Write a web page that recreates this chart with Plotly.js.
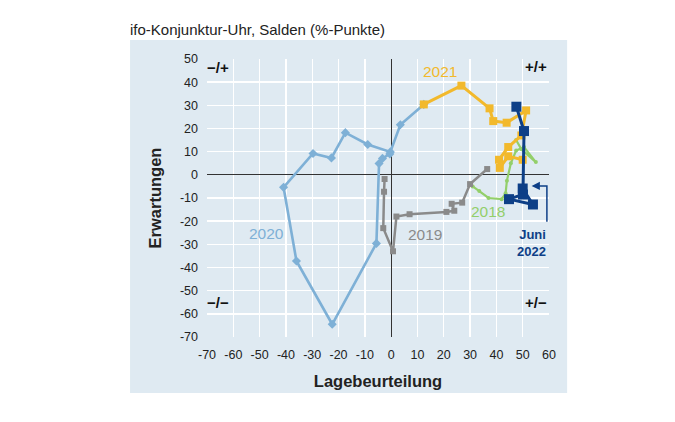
<!DOCTYPE html>
<html><head><meta charset="utf-8">
<script src="https://cdn.plot.ly/plotly-3.0.1.min.js"></script>
<style>html,body{margin:0;padding:0;background:#fff}#chart{width:675px;height:422px}</style>
</head><body><div id="chart"></div>
<script>
// ---- data (Lagebeurteilung = x, Erwartungen = y) ----
const lage2018 = [47.5, 49.5, 55.0, 50.5, 47.5, 45.5, 44.0, 43.5, 42.0, 37.0, 33.5, 31.0];
const erw2018  = [15.0, 11.0, 5.5, 12.0, 10.5, 5.0, -2.5, -8.0, -10.5, -10.0, -7.0, -5.0];

const lage2019 = [36.5, 30.0, 27.0, 23.0, 24.0, 21.0, 7.0, 2.0, 0.7, -3.0, -2.7, -2.5];
const erw2019  = [2.5, -4.0, -12.0, -12.5, -15.5, -16.0, -17.0, -18.0, -33.0, -23.0, -7.3, -1.8];

const lage2020 = [-0.5, -3.3, -4.6, -5.6, -22.4, -36.0, -40.9, -29.7, -22.7, -17.4, -8.9, -0.3, 3.5, 12.4];
const erw2020  = [9.0, 7.1, 4.9, -29.6, -64.5, -37.2, -5.4, 9.2, 7.3, 18.2, 13.1, 9.9, 21.6, 30.4];

const lage2021 = [12.4, 26.7, 37.4, 38.8, 43.9, 51.3, 49.5, 44.5, 41.0, 41.3, 44.5, 50.0];
const erw2021  = [30.4, 38.5, 28.7, 23.2, 22.5, 27.8, 17.0, 12.0, 6.5, 3.0, 8.0, 6.5];

const lage2022 = [47.6, 50.5, 50.1, 44.8, 53.9, 50.0];
const erw2022  = [29.4, 18.9, -8.5, -10.5, -12.8, -5.9];

// arrow pointing at June 2022
const arrowX = [59.2, 59.2, 55.0];
const arrowY = [-20.3, -4.8, -4.8];

const xTicks = [-70, -60, -50, -40, -30, -20, -10, 0, 10, 20, 30, 40, 50, 60];
const yTicks = [50, 40, 30, 20, 10, 0, -10, -20, -30, -40, -50, -60, -70];

const yearLabels = ['2018', '2019', '2020', '2021'];
const yearLabelX = [36.8, 12.7, -47.5, 18.5];
const yearLabelY = [-16.0, -25.6, -25.3, 44.5];

const quadLabels = ['\u2212/+', '+/+', '\u2212/\u2212', '+/\u2212'];
const quadX = [-66.0, 55.0, -66.0, 55.0];
const quadY = [46.3, 46.8, -55.0, -55.0];

// ---- styles ----
const C18 = '#93cf6a', C19 = '#8a8a8a', C20 = '#7eb0d6', C21 = '#f2b92c', C22 = '#0d3f87';
const font = 'Liberation Sans, Arial, sans-serif';

const traces = [
  {x: lage2018, y: erw2018, mode: 'lines+markers', line: {color: C18, width: 2.2},
   marker: {symbol: 'circle', size: 4, color: C18}},
  {x: lage2019, y: erw2019, mode: 'lines+markers', line: {color: C19, width: 2.5},
   marker: {symbol: 'square', size: 6, color: C19}},
  {x: lage2020, y: erw2020, mode: 'lines+markers', line: {color: C20, width: 2.6},
   marker: {symbol: 'diamond', size: 7, color: C20}},
  {x: lage2021, y: erw2021, mode: 'lines+markers', line: {color: C21, width: 3},
   marker: {symbol: 'square', size: 8, color: C21}},
  {x: lage2022, y: erw2022, mode: 'lines+markers', line: {color: C22, width: 3},
   marker: {symbol: 'square', size: 10, color: C22}},
  {x: arrowX, y: arrowY, mode: 'lines', line: {color: C22, width: 1.5}, hoverinfo: 'skip'}
];

const annotations = [];
const yearColors = [C18, C19, C20, C21];
yearLabels.forEach((t, i) => annotations.push({
  x: yearLabelX[i], y: yearLabelY[i], text: t, showarrow: false,
  font: {family: font, size: 15.5, color: yearColors[i]}
}));
quadLabels.forEach((t, i) => annotations.push({
  x: quadX[i], y: quadY[i], text: '<b>' + t + '</b>', showarrow: false,
  font: {family: font, size: 15, color: '#111'}
}));
annotations.push({
  x: arrowX[2] - 1.6, y: arrowY[2], ax: arrowX[2], ay: arrowY[2], axref: 'x', ayref: 'y',
  text: '', showarrow: true, arrowhead: 2, arrowsize: 1.1, arrowwidth: 1.5, arrowcolor: C22
});
annotations.push({
  x: 53.5, y: -29.5, text: '<b>Juni<br>2022</b>', showarrow: false,
  font: {family: font, size: 13, color: C22}, align: 'right'
});

const layout = {
  width: 675, height: 422,
  margin: {l: 207, r: 126, t: 59, b: 85},
  paper_bgcolor: '#ffffff', plot_bgcolor: 'rgba(0,0,0,0)',
  showlegend: false,
  title: {text: 'ifo-Konjunktur-Uhr, Salden (%-Punkte)', xref: 'container', yref: 'container',
          x: 130 / 675, xanchor: 'left', y: 1 - 30 / 422, yanchor: 'middle',
          font: {family: font, size: 15, color: '#222'}},
  xaxis: {range: [-70, 60], tickvals: xTicks, ticktext: xTicks.map(String),
          showgrid: true, gridcolor: '#ffffff', gridwidth: 1.4,
          zeroline: true, zerolinecolor: '#333333', zerolinewidth: 1.2,
          showline: false, ticks: '', ticklabelstandoff: 8,
          tickfont: {family: font, size: 12.5, color: '#222'},
          title: {text: '<b>Lagebeurteilung</b>', font: {family: font, size: 16.5, color: '#222'}, standoff: 14}},
  yaxis: {range: [-70, 50], tickvals: yTicks, ticktext: yTicks.map(String),
          showgrid: true, gridcolor: '#ffffff', gridwidth: 1.4,
          zeroline: true, zerolinecolor: '#333333', zerolinewidth: 1.2,
          showline: false, ticks: '', ticklabelstandoff: 8,
          tickfont: {family: font, size: 12.5, color: '#222'},
          title: {text: '<b>Erwartungen</b>', font: {family: font, size: 16.5, color: '#222'}, standoff: 14}},
  shapes: [{type: 'rect', xref: 'paper', yref: 'paper', x0: -0.225, x1: 1.053, y0: -0.201, y1: 1.068,
            fillcolor: '#dfeaf2', line: {width: 0}, layer: 'below'}],
  annotations: annotations
};

Plotly.newPlot('chart', traces, layout, {staticPlot: true, displayModeBar: false});
</script></body></html>
